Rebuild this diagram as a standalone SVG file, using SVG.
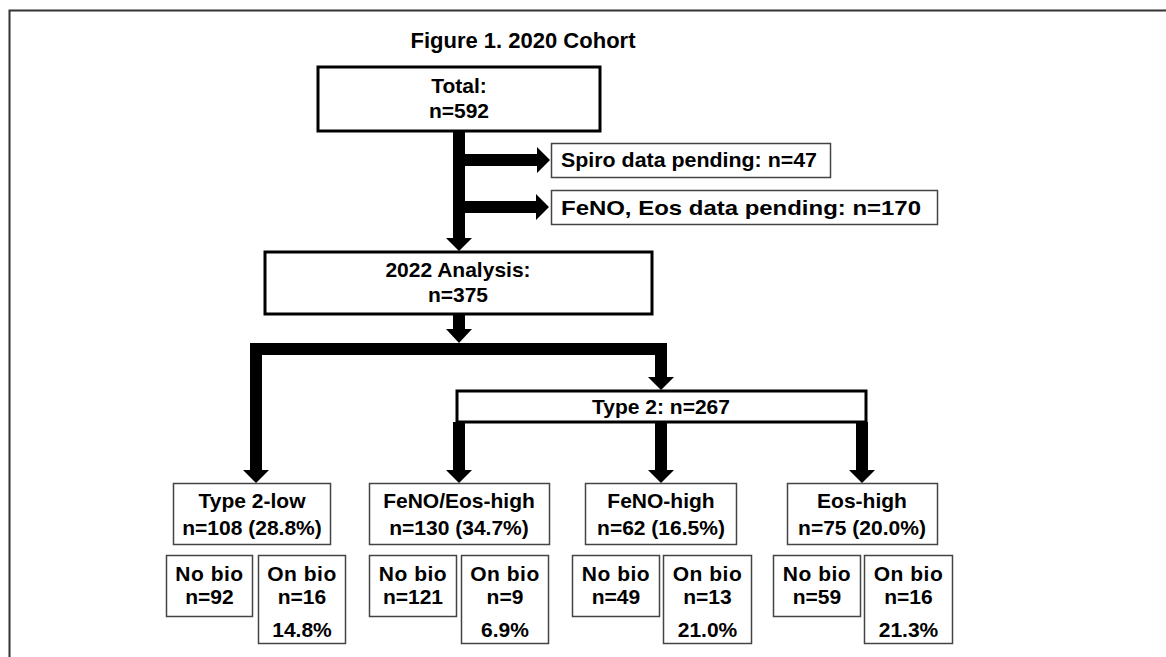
<svg xmlns="http://www.w3.org/2000/svg" width="1166" height="657" viewBox="0 0 1166 657">
<style>
text{font-family:"Liberation Sans",Arial,sans-serif;font-weight:bold;fill:#000;font-size:21px}
.c{text-anchor:middle}
.title{font-size:22px}
.thick{fill:#fff;stroke:#000;stroke-width:3}
.thin{fill:#fff;stroke:#444;stroke-width:1.5}
.sp{letter-spacing:0.5px}
.arr{fill:#000}
</style>
<rect width="1166" height="657" fill="#fff"/>
<path d="M9.5,657 V10.5 H1166" fill="none" stroke="#333" stroke-width="2"/>
<text class="title c" x="523" y="48">Figure 1. 2020 Cohort</text>
<g id="connectors">
<path class="arr" d="M453,131 H465 V238 H472 L459,251 L446,238 H453 Z"/>
<path class="arr" d="M459,154 H537 V147 L550,160 L537,173 V166 H459 Z"/>
<path class="arr" d="M459,201 H536 V194 L549,207 L536,220 V213 H459 Z"/>
<path class="arr" d="M453,314 H465 V329 H472 L459,343 L446,329 H453 Z"/>
<path class="arr" d="M250,343 H667 V377 H674 L661,390 L648,377 H655 V355 H262 V470 H269 L256,483 L243,470 H250 Z"/>
<path class="arr" d="M453,422 H465 V470 H472 L459,483 L446,470 H453 Z"/>
<path class="arr" d="M655,422 H667 V470 H674 L661,483 L648,470 H655 Z"/>
<path class="arr" d="M856,422 H868 V470 H875 L862,483 L849,470 H856 Z"/>
</g>
<g id="total">
<rect class="thick" x="318" y="67" width="282" height="64"/>
<text class="c" x="459" y="93">Total:</text>
<text class="c" x="459" y="118">n=592</text>
</g>
<g id="spiro">
<rect class="thin" x="551.5" y="143.5" width="279" height="34"/>
<text x="561" y="167" textLength="256" lengthAdjust="spacingAndGlyphs">Spiro data pending: n=47</text>
</g>
<g id="feno-pending">
<rect class="thin" x="551.5" y="190.5" width="386" height="34"/>
<text x="561" y="215" textLength="360" lengthAdjust="spacingAndGlyphs">FeNO, Eos data pending: n=170</text>
</g>
<g id="analysis">
<rect class="thick" x="265" y="252" width="387" height="62"/>
<text class="c" x="458" y="277">2022 Analysis:</text>
<text class="c" x="458" y="302">n=375</text>
</g>
<g id="type2">
<rect class="thick" x="457" y="391" width="409" height="31"/>
<text class="c" x="661" y="414">Type 2: n=267</text>
</g>
<g id="type2low">
<rect class="thin" x="173.5" y="483.5" width="157" height="61"/>
<text class="c" x="252" y="508">Type 2-low</text>
<text class="c" x="252" y="535">n=108 (28.8%)</text>
</g>
<g id="fenoeos">
<rect class="thin" x="369.5" y="483.5" width="180" height="61"/>
<text class="c" x="459" y="508">FeNO/Eos-high</text>
<text class="c" x="459" y="535">n=130 (34.7%)</text>
</g>
<g id="fenohigh">
<rect class="thin" x="585.5" y="483.5" width="151" height="61"/>
<text class="c" x="661" y="508">FeNO-high</text>
<text class="c" x="661" y="535">n=62 (16.5%)</text>
</g>
<g id="eoshigh">
<rect class="thin" x="787.5" y="483.5" width="150" height="61"/>
<text class="c" x="862" y="508">Eos-high</text>
<text class="c" x="862" y="535">n=75 (20.0%)</text>
</g>
<g id="nobio1">
<rect class="thin" x="166.5" y="555.5" width="86" height="61"/>
<text class="c sp" x="209.5" y="581">No bio</text>
<text class="c" x="209.5" y="604">n=92</text>
</g>
<g id="onbio1">
<rect class="thin" x="258.5" y="555.5" width="87" height="88"/>
<text class="c sp" x="302" y="581">On bio</text>
<text class="c" x="302" y="604">n=16</text>
<text class="c" x="302" y="637">14.8%</text>
</g>
<g id="nobio2">
<rect class="thin" x="369.5" y="555.5" width="87" height="61"/>
<text class="c sp" x="413" y="581">No bio</text>
<text class="c" x="413" y="604">n=121</text>
</g>
<g id="onbio2">
<rect class="thin" x="461.5" y="555.5" width="87" height="88"/>
<text class="c sp" x="505" y="581">On bio</text>
<text class="c" x="505" y="604">n=9</text>
<text class="c" x="505" y="637">6.9%</text>
</g>
<g id="nobio3">
<rect class="thin" x="572.5" y="555.5" width="87" height="61"/>
<text class="c sp" x="616" y="581">No bio</text>
<text class="c" x="616" y="604">n=49</text>
</g>
<g id="onbio3">
<rect class="thin" x="663.5" y="555.5" width="88" height="88"/>
<text class="c sp" x="707.5" y="581">On bio</text>
<text class="c" x="707.5" y="604">n=13</text>
<text class="c" x="707.5" y="637">21.0%</text>
</g>
<g id="nobio4">
<rect class="thin" x="773.5" y="555.5" width="87" height="61"/>
<text class="c sp" x="817" y="581">No bio</text>
<text class="c" x="817" y="604">n=59</text>
</g>
<g id="onbio4">
<rect class="thin" x="864.5" y="555.5" width="88" height="88"/>
<text class="c sp" x="908.5" y="581">On bio</text>
<text class="c" x="908.5" y="604">n=16</text>
<text class="c" x="908.5" y="637">21.3%</text>
</g>
</svg>
